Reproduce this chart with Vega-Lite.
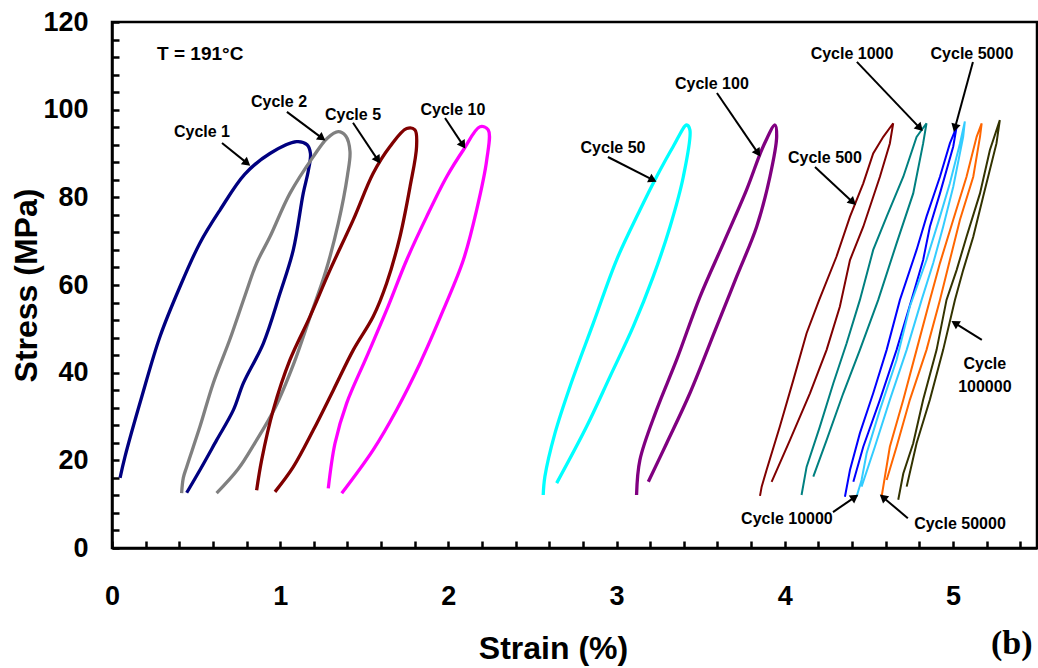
{
  "$schema": "https://vega.github.io/schema/vega-lite/v6.json",
  "width": 925,
  "height": 526,
  "autosize": {"type": "none"},
  "padding": {"left": 112, "top": 22, "right": 1, "bottom": 120},
  "background": "white",
  "config": {"view": {"stroke": "black", "strokeWidth": 2.5}, "axis": {"grid": false}},
  "datasets": {
    "loops": [
      {"cycle":1,"i":0,"strain":0.048,"stress":16.0},{"cycle":1,"i":1,"strain":0.077,"stress":20.8},{"cycle":1,"i":2,"strain":0.177,"stress":34.5},{"cycle":1,"i":3,"strain":0.285,"stress":48.2},{"cycle":1,"i":4,"strain":0.404,"stress":59.6},{"cycle":1,"i":5,"strain":0.523,"stress":69.6},{"cycle":1,"i":6,"strain":0.642,"stress":77.1},{"cycle":1,"i":7,"strain":0.790,"stress":85.3},{"cycle":1,"i":8,"strain":0.939,"stress":90.0},{"cycle":1,"i":9,"strain":1.098,"stress":92.7},{"cycle":1,"i":10,"strain":1.160,"stress":92.0},{"cycle":1,"i":11,"strain":1.180,"stress":90.0},{"cycle":1,"i":12,"strain":1.167,"stress":86.0},{"cycle":1,"i":13,"strain":1.137,"stress":80.9},{"cycle":1,"i":14,"strain":1.078,"stress":68.0},{"cycle":1,"i":15,"strain":0.999,"stress":58.1},{"cycle":1,"i":16,"strain":0.900,"stress":46.7},{"cycle":1,"i":17,"strain":0.781,"stress":37.6},{"cycle":1,"i":18,"strain":0.722,"stress":31.5},{"cycle":1,"i":19,"strain":0.622,"stress":24.6},{"cycle":1,"i":20,"strain":0.523,"stress":17.8},{"cycle":1,"i":21,"strain":0.444,"stress":12.6},
      {"cycle":2,"i":0,"strain":0.414,"stress":12.5},{"cycle":2,"i":1,"strain":0.424,"stress":16.0},{"cycle":2,"i":2,"strain":0.444,"stress":18.5},{"cycle":2,"i":3,"strain":0.523,"stress":27.7},{"cycle":2,"i":4,"strain":0.602,"stress":37.6},{"cycle":2,"i":5,"strain":0.700,"stress":47.5},{"cycle":2,"i":6,"strain":0.790,"stress":57.5},{"cycle":2,"i":7,"strain":0.860,"stress":65.0},{"cycle":2,"i":8,"strain":0.939,"stress":71.0},{"cycle":2,"i":9,"strain":1.058,"stress":80.9},{"cycle":2,"i":10,"strain":1.197,"stress":89.3},{"cycle":2,"i":11,"strain":1.280,"stress":93.5},{"cycle":2,"i":12,"strain":1.345,"stress":95.0},{"cycle":2,"i":13,"strain":1.390,"stress":94.0},{"cycle":2,"i":14,"strain":1.415,"stress":90.5},{"cycle":2,"i":15,"strain":1.400,"stress":85.0},{"cycle":2,"i":16,"strain":1.345,"stress":74.0},{"cycle":2,"i":17,"strain":1.270,"stress":63.0},{"cycle":2,"i":18,"strain":1.180,"stress":53.0},{"cycle":2,"i":19,"strain":1.080,"stress":42.0},{"cycle":2,"i":20,"strain":0.970,"stress":32.0},{"cycle":2,"i":21,"strain":0.850,"stress":24.0},{"cycle":2,"i":22,"strain":0.750,"stress":18.0},{"cycle":2,"i":23,"strain":0.622,"stress":12.5},
      {"cycle":5,"i":0,"strain":0.860,"stress":13.2},{"cycle":5,"i":1,"strain":0.890,"stress":20.1},{"cycle":5,"i":2,"strain":0.959,"stress":31.5},{"cycle":5,"i":3,"strain":1.058,"stress":42.9},{"cycle":5,"i":4,"strain":1.177,"stress":52.8},{"cycle":5,"i":5,"strain":1.296,"stress":63.4},{"cycle":5,"i":6,"strain":1.435,"stress":74.9},{"cycle":5,"i":7,"strain":1.553,"stress":85.5},{"cycle":5,"i":8,"strain":1.653,"stress":91.6},{"cycle":5,"i":9,"strain":1.752,"stress":95.7},{"cycle":5,"i":10,"strain":1.801,"stress":95.4},{"cycle":5,"i":11,"strain":1.811,"stress":91.6},{"cycle":5,"i":12,"strain":1.772,"stress":82.4},{"cycle":5,"i":13,"strain":1.712,"stress":71.0},{"cycle":5,"i":14,"strain":1.633,"stress":60.4},{"cycle":5,"i":15,"strain":1.553,"stress":52.8},{"cycle":5,"i":16,"strain":1.435,"stress":45.2},{"cycle":5,"i":17,"strain":1.316,"stress":36.0},{"cycle":5,"i":18,"strain":1.197,"stress":26.9},{"cycle":5,"i":19,"strain":1.078,"stress":18.5},{"cycle":5,"i":20,"strain":0.969,"stress":12.8},
      {"cycle":10,"i":0,"strain":1.286,"stress":13.6},{"cycle":10,"i":1,"strain":1.326,"stress":23.9},{"cycle":10,"i":2,"strain":1.395,"stress":33.0},{"cycle":10,"i":3,"strain":1.514,"stress":43.6},{"cycle":10,"i":4,"strain":1.633,"stress":54.3},{"cycle":10,"i":5,"strain":1.752,"stress":65.7},{"cycle":10,"i":6,"strain":1.871,"stress":75.6},{"cycle":10,"i":7,"strain":1.990,"stress":84.7},{"cycle":10,"i":8,"strain":2.089,"stress":90.8},{"cycle":10,"i":9,"strain":2.188,"stress":96.1},{"cycle":10,"i":10,"strain":2.237,"stress":95.4},{"cycle":10,"i":11,"strain":2.228,"stress":88.5},{"cycle":10,"i":12,"strain":2.168,"stress":77.1},{"cycle":10,"i":13,"strain":2.089,"stress":65.7},{"cycle":10,"i":14,"strain":1.970,"stress":54.3},{"cycle":10,"i":15,"strain":1.831,"stress":42.1},{"cycle":10,"i":16,"strain":1.692,"stress":31.5},{"cycle":10,"i":17,"strain":1.553,"stress":22.4},{"cycle":10,"i":18,"strain":1.366,"stress":12.5},
      {"cycle":50,"i":0,"strain":2.564,"stress":12.1},{"cycle":50,"i":1,"strain":2.574,"stress":16.3},{"cycle":50,"i":2,"strain":2.634,"stress":26.2},{"cycle":50,"i":3,"strain":2.723,"stress":36.8},{"cycle":50,"i":4,"strain":2.862,"stress":51.3},{"cycle":50,"i":5,"strain":3.000,"stress":65.7},{"cycle":50,"i":6,"strain":3.139,"stress":77.1},{"cycle":50,"i":7,"strain":3.238,"stress":84.7},{"cycle":50,"i":8,"strain":3.337,"stress":91.6},{"cycle":50,"i":9,"strain":3.417,"stress":96.5},{"cycle":50,"i":10,"strain":3.436,"stress":95.4},{"cycle":50,"i":11,"strain":3.397,"stress":84.7},{"cycle":50,"i":12,"strain":3.318,"stress":73.3},{"cycle":50,"i":13,"strain":3.218,"stress":61.9},{"cycle":50,"i":14,"strain":3.099,"stress":50.5},{"cycle":50,"i":15,"strain":2.961,"stress":39.1},{"cycle":50,"i":16,"strain":2.822,"stress":27.7},{"cycle":50,"i":17,"strain":2.644,"stress":14.8},
      {"cycle":100,"i":0,"strain":3.119,"stress":12.1},{"cycle":100,"i":1,"strain":3.139,"stress":20.1},{"cycle":100,"i":2,"strain":3.238,"stress":31.5},{"cycle":100,"i":3,"strain":3.357,"stress":42.9},{"cycle":100,"i":4,"strain":3.496,"stress":57.3},{"cycle":100,"i":5,"strain":3.635,"stress":69.5},{"cycle":100,"i":6,"strain":3.773,"stress":81.7},{"cycle":100,"i":7,"strain":3.872,"stress":91.6},{"cycle":100,"i":8,"strain":3.942,"stress":96.5},{"cycle":100,"i":9,"strain":3.952,"stress":93.8},{"cycle":100,"i":10,"strain":3.912,"stress":84.7},{"cycle":100,"i":11,"strain":3.833,"stress":73.3},{"cycle":100,"i":12,"strain":3.714,"stress":61.9},{"cycle":100,"i":13,"strain":3.595,"stress":50.5},{"cycle":100,"i":14,"strain":3.436,"stress":35.3},{"cycle":100,"i":15,"strain":3.298,"stress":23.9},{"cycle":100,"i":16,"strain":3.189,"stress":15.1},
      {"cycle":500,"i":0,"strain":3.853,"stress":11.9},{"cycle":500,"i":1,"strain":3.863,"stress":14.0},{"cycle":500,"i":2,"strain":3.892,"stress":17.8},{"cycle":500,"i":3,"strain":3.971,"stress":27.7},{"cycle":500,"i":4,"strain":4.051,"stress":38.3},{"cycle":500,"i":5,"strain":4.130,"stress":49.0},{"cycle":500,"i":6,"strain":4.205,"stress":56.6},{"cycle":500,"i":7,"strain":4.308,"stress":66.5},{"cycle":500,"i":8,"strain":4.388,"stress":75.6},{"cycle":500,"i":9,"strain":4.467,"stress":83.2},{"cycle":500,"i":10,"strain":4.526,"stress":90.0},{"cycle":500,"i":11,"strain":4.586,"stress":93.8},{"cycle":500,"i":12,"strain":4.645,"stress":96.9},{"cycle":500,"i":13,"strain":4.625,"stress":92.3},{"cycle":500,"i":14,"strain":4.566,"stress":84.7},{"cycle":500,"i":15,"strain":4.467,"stress":73.3},{"cycle":500,"i":16,"strain":4.388,"stress":65.7},{"cycle":500,"i":17,"strain":4.328,"stress":55.1},{"cycle":500,"i":18,"strain":4.249,"stress":45.2},{"cycle":500,"i":19,"strain":4.150,"stress":35.3},{"cycle":500,"i":20,"strain":4.031,"stress":24.6},{"cycle":500,"i":21,"strain":3.922,"stress":15.1},
      {"cycle":1000,"i":0,"strain":4.100,"stress":12.1},{"cycle":1000,"i":1,"strain":4.130,"stress":18.5},{"cycle":1000,"i":2,"strain":4.209,"stress":27.7},{"cycle":1000,"i":3,"strain":4.289,"stress":37.6},{"cycle":1000,"i":4,"strain":4.368,"stress":46.7},{"cycle":1000,"i":5,"strain":4.447,"stress":56.6},{"cycle":1000,"i":6,"strain":4.526,"stress":68.0},{"cycle":1000,"i":7,"strain":4.606,"stress":75.6},{"cycle":1000,"i":8,"strain":4.705,"stress":84.7},{"cycle":1000,"i":9,"strain":4.784,"stress":93.8},{"cycle":1000,"i":10,"strain":4.843,"stress":96.9},{"cycle":1000,"i":11,"strain":4.823,"stress":92.3},{"cycle":1000,"i":12,"strain":4.764,"stress":80.9},{"cycle":1000,"i":13,"strain":4.665,"stress":69.5},{"cycle":1000,"i":14,"strain":4.556,"stress":56.6},{"cycle":1000,"i":15,"strain":4.447,"stress":45.2},{"cycle":1000,"i":16,"strain":4.348,"stress":35.3},{"cycle":1000,"i":17,"strain":4.249,"stress":24.6},{"cycle":1000,"i":18,"strain":4.170,"stress":16.3},
      {"cycle":5000,"i":0,"strain":4.358,"stress":11.7},{"cycle":5000,"i":1,"strain":4.388,"stress":17.8},{"cycle":5000,"i":2,"strain":4.447,"stress":26.2},{"cycle":5000,"i":3,"strain":4.526,"stress":35.3},{"cycle":5000,"i":4,"strain":4.606,"stress":45.2},{"cycle":5000,"i":5,"strain":4.685,"stress":56.6},{"cycle":5000,"i":6,"strain":4.784,"stress":68.0},{"cycle":5000,"i":7,"strain":4.843,"stress":75.6},{"cycle":5000,"i":8,"strain":4.923,"stress":84.7},{"cycle":5000,"i":9,"strain":4.982,"stress":92.3},{"cycle":5000,"i":10,"strain":5.022,"stress":96.1},{"cycle":5000,"i":11,"strain":5.002,"stress":91.6},{"cycle":5000,"i":12,"strain":4.923,"stress":80.9},{"cycle":5000,"i":13,"strain":4.863,"stress":73.3},{"cycle":5000,"i":14,"strain":4.823,"stress":65.7},{"cycle":5000,"i":15,"strain":4.754,"stress":56.6},{"cycle":5000,"i":16,"strain":4.665,"stress":45.2},{"cycle":5000,"i":17,"strain":4.566,"stress":33.8},{"cycle":5000,"i":18,"strain":4.467,"stress":23.1},{"cycle":5000,"i":19,"strain":4.408,"stress":15.1},
      {"cycle":10000,"i":0,"strain":4.427,"stress":11.7},{"cycle":10000,"i":1,"strain":4.457,"stress":15.5},{"cycle":10000,"i":2,"strain":4.487,"stress":21.6},{"cycle":10000,"i":3,"strain":4.566,"stress":31.5},{"cycle":10000,"i":4,"strain":4.665,"stress":42.9},{"cycle":10000,"i":5,"strain":4.744,"stress":55.1},{"cycle":10000,"i":6,"strain":4.843,"stress":65.7},{"cycle":10000,"i":7,"strain":4.923,"stress":75.6},{"cycle":10000,"i":8,"strain":4.982,"stress":83.2},{"cycle":10000,"i":9,"strain":5.042,"stress":92.3},{"cycle":10000,"i":10,"strain":5.071,"stress":97.3},{"cycle":10000,"i":11,"strain":5.061,"stress":93.8},{"cycle":10000,"i":12,"strain":5.002,"stress":82.4},{"cycle":10000,"i":13,"strain":4.942,"stress":73.3},{"cycle":10000,"i":14,"strain":4.883,"stress":65.0},{"cycle":10000,"i":15,"strain":4.814,"stress":56.6},{"cycle":10000,"i":16,"strain":4.725,"stress":45.2},{"cycle":10000,"i":17,"strain":4.625,"stress":33.8},{"cycle":10000,"i":18,"strain":4.536,"stress":23.1},{"cycle":10000,"i":19,"strain":4.457,"stress":14.0},
      {"cycle":50000,"i":0,"strain":4.576,"stress":11.7},{"cycle":50000,"i":1,"strain":4.625,"stress":23.1},{"cycle":50000,"i":2,"strain":4.705,"stress":33.8},{"cycle":50000,"i":3,"strain":4.784,"stress":45.2},{"cycle":50000,"i":4,"strain":4.863,"stress":56.6},{"cycle":50000,"i":5,"strain":4.923,"stress":65.0},{"cycle":50000,"i":6,"strain":5.002,"stress":74.9},{"cycle":50000,"i":7,"strain":5.081,"stress":84.7},{"cycle":50000,"i":8,"strain":5.141,"stress":93.8},{"cycle":50000,"i":9,"strain":5.171,"stress":96.9},{"cycle":50000,"i":10,"strain":5.161,"stress":93.8},{"cycle":50000,"i":11,"strain":5.121,"stress":84.7},{"cycle":50000,"i":12,"strain":5.042,"stress":74.9},{"cycle":50000,"i":13,"strain":4.982,"stress":65.7},{"cycle":50000,"i":14,"strain":4.923,"stress":56.6},{"cycle":50000,"i":15,"strain":4.843,"stress":45.2},{"cycle":50000,"i":16,"strain":4.744,"stress":33.8},{"cycle":50000,"i":17,"strain":4.665,"stress":23.1},{"cycle":50000,"i":18,"strain":4.606,"stress":15.5},
      {"cycle":100000,"i":0,"strain":4.675,"stress":11.0},{"cycle":100000,"i":1,"strain":4.705,"stress":17.0},{"cycle":100000,"i":2,"strain":4.764,"stress":23.9},{"cycle":100000,"i":3,"strain":4.823,"stress":33.8},{"cycle":100000,"i":4,"strain":4.903,"stress":45.2},{"cycle":100000,"i":5,"strain":4.962,"stress":56.6},{"cycle":100000,"i":6,"strain":5.022,"stress":63.4},{"cycle":100000,"i":7,"strain":5.081,"stress":71.0},{"cycle":100000,"i":8,"strain":5.161,"stress":80.9},{"cycle":100000,"i":9,"strain":5.220,"stress":90.8},{"cycle":100000,"i":10,"strain":5.279,"stress":97.6},{"cycle":100000,"i":11,"strain":5.259,"stress":92.3},{"cycle":100000,"i":12,"strain":5.180,"stress":80.2},{"cycle":100000,"i":13,"strain":5.121,"stress":71.0},{"cycle":100000,"i":14,"strain":5.061,"stress":63.4},{"cycle":100000,"i":15,"strain":5.012,"stress":56.6},{"cycle":100000,"i":16,"strain":4.942,"stress":45.2},{"cycle":100000,"i":17,"strain":4.863,"stress":33.8},{"cycle":100000,"i":18,"strain":4.784,"stress":23.9},{"cycle":100000,"i":19,"strain":4.725,"stress":14.0}
    ],
    "labels": [
      {"label":"Cycle 1","strain":0.535,"stress":94.9},
      {"label":"Cycle 2","strain":0.993,"stress":101.8},
      {"label":"Cycle 5","strain":1.433,"stress":98.8},
      {"label":"Cycle 10","strain":2.027,"stress":99.9},
      {"label":"Cycle 50","strain":2.979,"stress":91.3},
      {"label":"Cycle 100","strain":3.567,"stress":105.9},
      {"label":"Cycle 500","strain":4.239,"stress":89.0},
      {"label":"Cycle 1000","strain":4.400,"stress":112.7},
      {"label":"Cycle 5000","strain":5.113,"stress":112.7},
      {"label":"Cycle\n100000","strain":5.190,"stress":42.0},
      {"label":"Cycle 10000","strain":4.013,"stress":6.6},
      {"label":"Cycle 50000","strain":5.042,"stress":5.5}
    ],
    "arrows": [
      {"label":"Cycle 1","x1":0.654,"y1":92.4,"x2":0.803,"y2":87.8,"heading":128.7},
      {"label":"Cycle 2","x1":1.040,"y1":99.5,"x2":1.249,"y2":93.5,"heading":126.6},
      {"label":"Cycle 5","x1":1.433,"y1":97.0,"x2":1.581,"y2":88.5,"heading":146.0},
      {"label":"Cycle 10","x1":1.980,"y1":98.1,"x2":2.087,"y2":91.9,"heading":146.3},
      {"label":"Cycle 50","x1":2.949,"y1":89.2,"x2":3.216,"y2":84.0,"heading":117.1},
      {"label":"Cycle 100","x1":3.597,"y1":103.8,"x2":3.841,"y2":90.1,"heading":145.7},
      {"label":"Cycle 500","x1":4.180,"y1":86.9,"x2":4.405,"y2":78.9,"heading":132.6},
      {"label":"Cycle 1000","x1":4.429,"y1":110.9,"x2":4.804,"y2":95.8,"heading":136.3},
      {"label":"Cycle 5000","x1":5.119,"y1":110.9,"x2":5.012,"y2":95.8,"heading":195.3},
      {"label":"Cycle 100000","x1":5.172,"y1":47.5,"x2":5.012,"y2":51.3,"heading":302.2},
      {"label":"Cycle 10000","x1":4.287,"y1":8.2,"x2":4.417,"y2":11.6,"heading":55.7},
      {"label":"Cycle 50000","x1":4.732,"y1":6.8,"x2":4.584,"y2":11.6,"heading":310.0}
    ],
    "temp": [{"label":"T = 191°C","strain":0.268,"stress":112.7}],
    "panel": [{"label":"(b)","strain":5.35,"stress":-21.9}]
  },
  "layer": [
    {
      "data": {"name": "loops"},
      "transform": [{"filter": "datum.cycle < 500"}],
      "mark": {"type": "line", "strokeWidth": 3.3, "interpolate": "catmull-rom"},
      "encoding": {
        "x": {
          "field": "strain", "type": "quantitative",
          "scale": {"domain": [0, 5.5], "nice": false, "zero": false},
          "axis": {
            "title": "Strain (%)",
            "values": [0,0.2,0.4,0.6,0.8,1,1.2,1.4,1.6,1.8,2,2.2,2.4,2.6,2.8,3,3.2,3.4,3.6,3.8,4,4.2,4.4,4.6,4.8,5,5.2,5.4],
            "tickCount": 200,
            "labelExpr": "abs(datum.value - round(datum.value)) < 0.01 ? format(datum.value, 'd') : ''",
            "tickSize": -7,
            "tickColor": "black", "tickWidth": 2.5,
            "domainColor": "black", "domainWidth": 2.5,
            "labelFont": "Liberation Sans", "labelFontWeight": "bold", "labelFontSize": 27, "labelColor": "black",
            "labelPadding": 55, "labelBaseline": "middle", "labelFlush": false, "labelOverlap": false,
            "titleFont": "Liberation Sans", "titleFontWeight": "bold", "titleFontSize": 32, "titleColor": "black",
            "titleX": 441, "titleY": 100, "titleBaseline": "middle", "titleAlign": "center"
          }
        },
        "y": {
          "field": "stress", "type": "quantitative",
          "scale": {"domain": [0, 120], "nice": false, "zero": false},
          "axis": {
            "title": "Stress (MPa)",
            "values": [0,4,8,12,16,20,24,28,32,36,40,44,48,52,56,60,64,68,72,76,80,84,88,92,96,100,104,108,112,116,120],
            "tickCount": 200,
            "labelExpr": "datum.value % 20 === 0 ? format(datum.value, 'd') : ''",
            "tickSize": -7,
            "tickColor": "black", "tickWidth": 2.5,
            "domainColor": "black", "domainWidth": 2.5,
            "labelFont": "Liberation Sans", "labelFontWeight": "bold", "labelFontSize": 27, "labelColor": "black",
            "labelPadding": 31, "labelFlush": false, "labelOverlap": false,
            "titleFont": "Liberation Sans", "titleFontWeight": "bold", "titleFontSize": 32, "titleColor": "black",
            "titleX": -86, "titleY": 263, "titleBaseline": "middle", "titleAlign": "center", "titleAngle": -90
          }
        },
        "color": {
          "field": "cycle", "type": "nominal",
          "scale": {
            "domain": [1,2,5,10,50,100,500,1000,5000,10000,50000,100000],
            "range": ["#000080","#808080","#800000","#ff00ff","#00ffff","#800080","#800000","#008080","#0000ff","#33ccff","#ff6600","#333300"]
          },
          "legend": null
        },
        "order": {"field": "i", "type": "quantitative"}
      }
    },
    {
      "data": {"name": "loops"},
      "transform": [{"filter": "datum.cycle >= 500"}],
      "mark": {"type": "line", "strokeWidth": 2, "interpolate": "linear"},
      "encoding": {
        "x": {"field": "strain", "type": "quantitative"},
        "y": {"field": "stress", "type": "quantitative"},
        "color": {"field": "cycle", "type": "nominal", "legend": null},
        "order": {"field": "i", "type": "quantitative"}
      }
    },
    {
      "data": {"name": "arrows"},
      "mark": {"type": "rule", "color": "black", "strokeWidth": 2},
      "encoding": {
        "x": {"field": "x1", "type": "quantitative"},
        "y": {"field": "y1", "type": "quantitative"},
        "x2": {"field": "x2"},
        "y2": {"field": "y2"}
      }
    },
    {
      "data": {"name": "arrows"},
      "mark": {"type": "point", "shape": "triangle-up", "filled": true, "color": "black", "size": 90, "opacity": 1},
      "encoding": {
        "x": {"field": "x2", "type": "quantitative"},
        "y": {"field": "y2", "type": "quantitative"},
        "angle": {"field": "heading", "type": "quantitative", "scale": null}
      }
    },
    {
      "data": {"name": "labels"},
      "mark": {"type": "text", "font": "Liberation Sans", "fontWeight": "bold", "fontSize": 16, "color": "black", "align": "center", "baseline": "middle", "lineBreak": "\n", "lineHeight": 23},
      "encoding": {
        "x": {"field": "strain", "type": "quantitative"},
        "y": {"field": "stress", "type": "quantitative"},
        "text": {"field": "label"}
      }
    },
    {
      "data": {"name": "temp"},
      "mark": {"type": "text", "font": "Liberation Sans", "fontWeight": "bold", "fontSize": 19, "color": "black", "align": "left", "baseline": "middle"},
      "encoding": {
        "x": {"field": "strain", "type": "quantitative"},
        "y": {"field": "stress", "type": "quantitative"},
        "text": {"field": "label"}
      }
    },
    {
      "data": {"name": "panel"},
      "mark": {"type": "text", "font": "Liberation Serif", "fontWeight": "bold", "fontSize": 34, "color": "black", "align": "center", "baseline": "middle", "clip": false},
      "encoding": {
        "x": {"field": "strain", "type": "quantitative"},
        "y": {"field": "stress", "type": "quantitative"},
        "text": {"field": "label"}
      }
    }
  ]
}
